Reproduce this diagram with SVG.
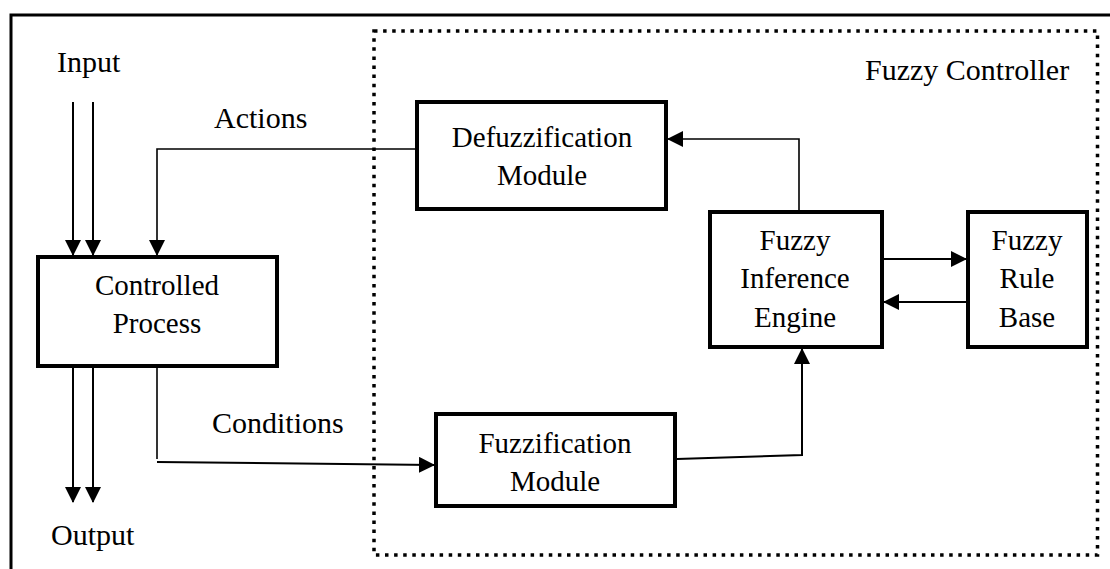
<svg xmlns="http://www.w3.org/2000/svg" width="1110" height="569" viewBox="0 0 1110 569">
<style>
.box{fill:#fff;stroke:#000;stroke-width:4}
.t{font-size:29px;fill:#000;text-anchor:middle}
.tl{font-size:30px;fill:#000}
.c{fill:none;stroke:#000;stroke-width:1.6}
.ca{fill:none;stroke:#000;stroke-width:2}
</style>
<defs>
<marker id="ah" markerUnits="userSpaceOnUse" markerWidth="16" markerHeight="16" refX="15" refY="8" orient="auto" viewBox="0 0 16 16">
<path d="M0,0 L16,8 L0,16 Z" fill="#000"/>
</marker>
</defs>
<rect width="1110" height="569" fill="#fff"/>
<g id="frame">
<path d="M11,569 V15 H1110" fill="none" stroke="#000" stroke-width="3"/>
</g>
<g font-family="Liberation Serif, Times New Roman, DejaVu Serif, serif">
<g id="fuzzy-controller">
<rect x="374" y="31" width="723.5" height="524" fill="none" stroke="#000" stroke-width="3.5" stroke-dasharray="3.5 5.6"/>
<text class="tl" x="865" y="80">Fuzzy Controller</text>
</g>
<g id="labels">
<text class="tl" x="57" y="72">Input</text>
<text class="tl" x="214" y="128">Actions</text>
<text class="tl" x="212" y="433">Conditions</text>
<text class="tl" x="51" y="545">Output</text>
</g>
<g id="controlled-process">
<rect class="box" x="38" y="257" width="239" height="109"/>
<text class="t" x="157" y="295">Controlled</text>
<text class="t" x="157" y="333">Process</text>
</g>
<g id="defuzzification">
<rect class="box" x="417" y="102" width="249" height="107"/>
<text class="t" x="542" y="147">Defuzzification</text>
<text class="t" x="542" y="185">Module</text>
</g>
<g id="inference">
<rect class="box" x="710" y="212" width="172" height="135"/>
<text class="t" x="795" y="250">Fuzzy</text>
<text class="t" x="795" y="288">Inference</text>
<text class="t" x="795" y="327">Engine</text>
</g>
<g id="rule-base">
<rect class="box" x="968" y="212" width="119" height="135"/>
<text class="t" x="1027" y="250">Fuzzy</text>
<text class="t" x="1027" y="288">Rule</text>
<text class="t" x="1027" y="327">Base</text>
</g>
<g id="fuzzification">
<rect class="box" x="436" y="414" width="239" height="92"/>
<text class="t" x="555" y="453">Fuzzification</text>
<text class="t" x="555" y="491">Module</text>
</g>
</g>
<g id="connectors">
<path class="ca" d="M73,102 V255" marker-end="url(#ah)"/>
<path class="ca" d="M93,102 V255" marker-end="url(#ah)"/>
<path class="ca" d="M73,368 V502" marker-end="url(#ah)"/>
<path class="ca" d="M93,368 V502" marker-end="url(#ah)"/>
<path class="c" d="M415,149 H157 V255" marker-end="url(#ah)"/>
<path class="c" d="M799,210 V139 H668" marker-end="url(#ah)"/>
<path class="c" d="M157,368 V459"/>
<path class="ca" d="M157,462 L434,465" marker-end="url(#ah)"/>
<path class="ca" d="M677,459 L802,455 V349" marker-end="url(#ah)"/>
<path class="ca" d="M884,259 H966" marker-end="url(#ah)"/>
<path class="ca" d="M966,302 H884" marker-end="url(#ah)"/>
</g>
</svg>
